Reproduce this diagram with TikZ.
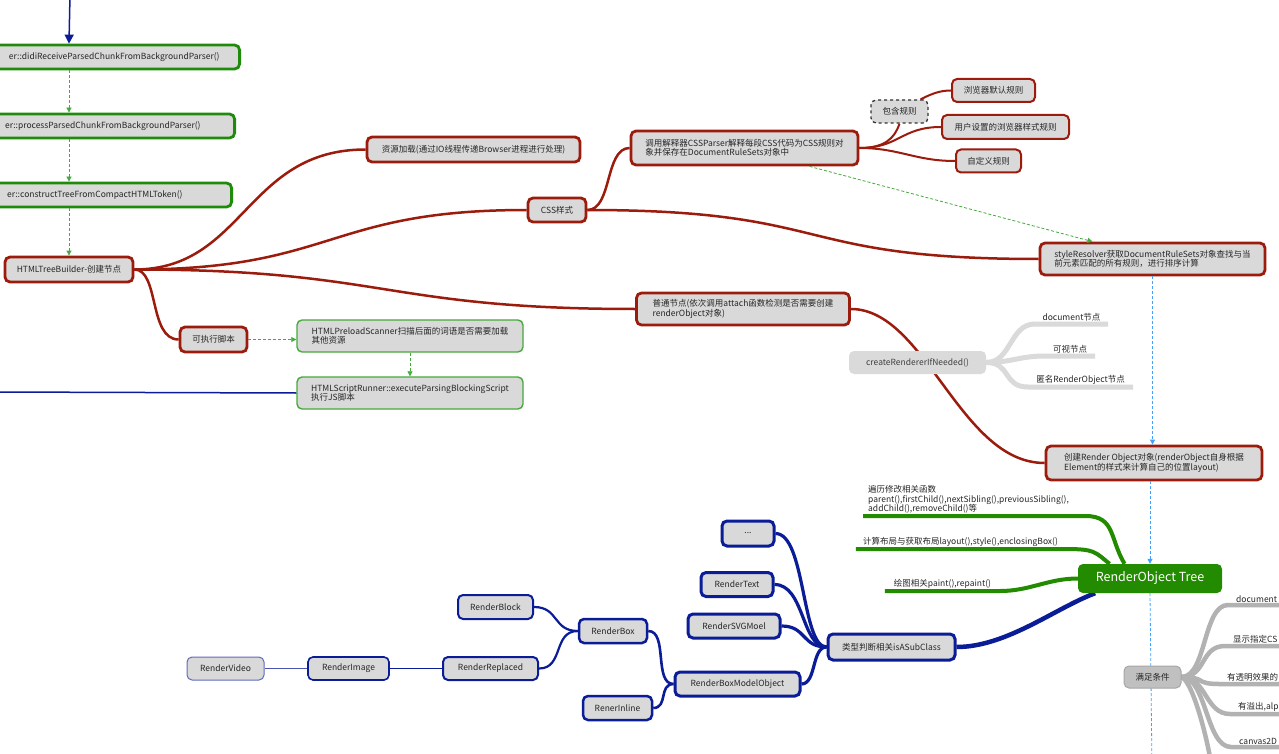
\documentclass[tikz,border=0pt]{standalone}
\usepackage{fontspec}
\setmainfont{Noto Sans CJK SC}
\usetikzlibrary{calc,arrows.meta}

\definecolor{mred}{RGB}{155,27,12}
\definecolor{mgreen}{RGB}{30,140,10}
\definecolor{lgreen}{RGB}{70,170,60}
\definecolor{mblue}{RGB}{10,28,150}
\definecolor{boxgray}{RGB}{217,217,217}
\definecolor{rotgreen}{RGB}{34,139,0}
\definecolor{dashblue}{RGB}{70,160,250}
\definecolor{crgray}{RGB}{218,218,218}
\definecolor{mzgray}{RGB}{192,192,192}
\definecolor{mzline}{RGB}{178,178,178}

\pgfdeclarelayer{bg}
\pgfsetlayers{bg,main}

\tikzset{
  base/.style={rounded corners=5pt, fill=boxgray, text=black!85, inner sep=0pt,
    font=\fontsize{8.5}{9.5}\selectfont},
  sz/.style 2 args={minimum width=#1pt, minimum height=#2pt},
  rbox/.style={base, draw=mred, line width=2.8pt},
  rsub/.style={base, draw=mred, line width=2pt},
  gtop/.style={base, draw=mgreen, line width=2.8pt, minimum height=24pt, text width=300pt, align=right, anchor=east},
  gbox/.style={base, draw=lgreen, line width=1.4pt},
  bone/.style={base, draw=mblue, line width=3pt},
  btwo/.style={base, draw=mblue, line width=2.5pt},
  bthree/.style={base, draw=mblue, line width=2pt},
  uline/.style={anchor=south, inner xsep=0pt, inner ysep=2.5pt, text=black!85,
    font=\fontsize{8.5}{9.5}\selectfont},
  rline/.style={draw=mred, line width=2.5pt},
  gline/.style={draw=rotgreen, line width=4pt},
  bline/.style={draw=mblue, line width=3.2pt},
  cline/.style={draw=crgray, line width=5pt},
  mline/.style={draw=mzline, line width=4.5pt},
  gdash/.style={draw=lgreen, line width=0.8pt, dash pattern=on 3pt off 2pt, -{Triangle[length=5pt,width=5pt]}},
  bdash/.style={draw=dashblue, line width=0.8pt, dash pattern=on 3pt off 2pt},
}

\begin{document}
\begin{tikzpicture}[x=1pt,y=-1pt]
\path[use as bounding box, clip] (0,0) rectangle (1279,754);

% parser chain
\node[gtop, inner xsep=20pt] (p1) at (241,57) {er::didiReceiveParsedChunkFromBackgroundParser()};
\node[gtop, inner xsep=34pt] (p2) at (236,126) {er::processParsedChunkFromBackgroundParser()};
\node[gtop, inner xsep=49pt] (p3) at (233,195) {er::constructTreeFromCompactHTMLToken()};

% tree builder and its branches
\node[rbox, sz={128}{25}] (htb) at (69,269.5) {HTMLTreeBuilder-创建节点};
\node[rbox, sz={213}{25}] (res) at (473.5,149.5) {资源加载(通过IO线程传递Browser进程进行处理)};
\node[rbox, sz={58}{24}] (css) at (557,210) {CSS样式};
\node[rbox, sz={213}{32}, align=left] (norm) at (743,309) {普通节点(依次调用attach函数检测是否需要创建\\renderObject对象)};
\node[rbox, sz={67}{25}] (scr) at (213.5,339.5) {可执行脚本};

\node[rbox, sz={227}{34}, align=left] (cssp) at (744.5,148) {调用解释器CSSParser解释每段CSS代码为CSS规则对\\象并保存在DocumentRuleSets对象中};
\node[rbox, sz={225}{32}, align=left] (sres) at (1152.5,259) {styleResolver获取DocumentRuleSets对象查找与当\\前元素匹配的所有规则，进行排序计算};
\node[rbox, sz={216}{34}, align=left] (crobj) at (1154,463) {创建Render Object对象(renderObject自身根据\\Element的样式来计算自己的位置layout)};

\node[base, draw=black!80, dashed, line width=1.3pt, sz={57}{23}] (incl) at (899.5,111.5) {包含规则};
\node[rsub, sz={83}{23}] (rule1) at (993.5,90.5) {浏览器默认规则};
\node[rsub, sz={127}{24}] (rule2) at (1005.5,127) {用户设置的浏览器样式规则};
\node[rsub, sz={65}{23}] (rule3) at (988.5,161) {自定义规则};

% scripts
\node[gbox, sz={226}{32}, align=left] (scan) at (410,336) {HTMLPreloadScanner扫描后面的词语是否需要加载\\其他资源};
\node[gbox, sz={226}{32}, align=left] (run) at (410,393) {HTMLScriptRunner::executeParsingBlockingScript\\执行JS脚本};

% createRendererIfNeeded
\node[base, fill=crgray, text=black!75, sz={137}{23}] (cre) at (917.5,362.5) {createRendererIfNeeded()};
\node[uline, minimum width=73pt] (cre1) at (1071.5,324) {document节点};
\node[uline, minimum width=50pt] (cre2) at (1070,356) {可视节点};
\node[uline, minimum width=105pt] (cre3) at (1080.5,387) {匿名RenderObject节点};

% render object tree
\node[base, fill=rotgreen, text=white, font=\fontsize{12.5}{14}\selectfont, sz={144}{29}] (rot) at (1150,578.5) {RenderObject Tree};
\node[uline, anchor=south west, text width=212pt, inner xsep=5pt, align=left] (trav) at (863,516) {遍历修改相关函数\\parent(),firstChild(),nextSibling(),previousSibling(),\\addChild(),removeChild()等};
\node[uline, minimum width=209pt] (lay) at (960.5,549) {计算布局与获取布局layout(),style(),enclosingBox()};
\node[uline, minimum width=115pt] (paint) at (942.5,591) {绘图相关paint(),repaint()};

% class hierarchy
\node[bone, sz={127}{26}] (isa) at (891.5,647) {类型判断相关isASubClass};
\node[bone, sz={52}{25}] (etc) at (748,533.5) {...};
\node[bone, sz={72}{24}] (rtxt) at (737,584.5) {RenderText};
\node[bone, sz={92}{24}] (rsvg) at (734,626) {RenderSVGMoel};
\node[bone, sz={125}{24}] (rbmo) at (737.5,684) {RenderBoxModelObject};
\node[btwo, sz={68}{24}] (rbox) at (613,631) {RenderBox};
\node[btwo, sz={69}{24}] (rinl) at (617.5,708) {RenerInline};
\node[bthree, sz={75}{24}] (rblk) at (495.5,607) {RenderBlock};
\node[bthree, sz={95}{23}] (rrep) at (490.5,668.5) {RenderReplaced};
\node[base, draw=mblue, line width=1.6pt, sz={81}{23}] (rimg) at (348.5,668.5) {RenderImage};
\node[base, draw=mblue!65, line width=1pt, sz={77}{23}] (rvid) at (225.5,668.5) {RenderVideo};

% conditions
\node[base, fill=mzgray, draw=black!35, line width=1pt, sz={57}{22}] (cond) at (1152.5,677) {满足条件};
\node[uline, anchor=south west, text width=70pt, inner xsep=8pt, align=left] (cond1) at (1228,605) {document};
\node[uline, anchor=south west, text width=70pt, inner xsep=8pt, align=left] (cond2) at (1225,646) {显示指定CS};
\node[uline, anchor=south west, text width=70pt, inner xsep=8pt, align=left] (cond3) at (1219,684) {有透明效果的};
\node[uline, anchor=south west, text width=70pt, inner xsep=8pt, align=left] (cond4) at (1230,714) {有溢出,alp};
\node[uline, anchor=south west, text width=70pt, inner xsep=8pt, align=left] (cond5) at (1231,747) {canvas2D};

\coordinate (topin) at (70,-5);
\coordinate (leftin) at (-5,392);
\coordinate (botout) at (1152,770);
\coordinate (condout) at (1212,770);

\begin{pgfonlayer}{bg}
\fill[white] (0,0) rectangle (1279,754);
% red branches
\draw[rline] (htb.east) .. controls +(110,0) and +(-120,0) .. (res.west);
\draw[rline] (htb.east) .. controls +(200,0) and +(-200,0) .. (css.west);
\draw[rline] (htb.east) .. controls +(250,0) and +(-250,0) .. (norm.west);
\draw[rline] (htb.east) .. controls +(25,0) and +(-30,0) .. (scr.west);
\draw[rline] (css.east) .. controls +(25,0) and +(-25,0) .. (cssp.west);
\draw[rline] (css.east) .. controls +(250,0) and +(-250,0) .. (sres.west);
\draw[rline] (norm.east) .. controls +(75,0) and +(-85,0) .. (crobj.west);
\draw[rline, line width=2pt] (cssp.east) .. controls +(25,0) and +(-5,15) .. (incl.south);
\draw[rline, line width=2pt] (incl.30) .. controls +(10,-5) and +(-12,0) .. (rule1.west);
\draw[rline, line width=2pt] (cssp.east) .. controls +(40,0) and +(-40,0) .. (rule2.west);
\draw[rline, line width=2pt] (cssp.east) .. controls +(40,0) and +(-40,0) .. (rule3.west);
% grey sub topics
\draw[cline] (cre.east) .. controls +(25,0) and +(-25,0) .. (cre1.south west) -- (cre1.south east);
\draw[cline] (cre.east) .. controls +(25,0) and +(-25,0) .. (cre2.south west) -- (cre2.south east);
\draw[cline] (cre.east) .. controls +(25,0) and +(-25,0) .. (cre3.south west) -- (cre3.south east);
% green sub topics
\draw[gline] (rot.150) .. controls +(-15,-25) and +(30,0) .. (trav.south east) -- (trav.south west);
\draw[gline] (rot.160) .. controls +(-15,-12) and +(30,0) .. (lay.south east) -- (lay.south west);
\draw[gline] (rot.west) .. controls +(-30,0) and +(30,0) .. (paint.south east) -- (paint.south west);
% blue hierarchy
\draw[bline, line width=4.5pt] (isa.east) .. controls +(50,0) and +(-40,15) .. (rot.195);
\draw[bline] (isa.west) .. controls +(-25,0) and +(30,0) .. (etc.east);
\draw[bline] (isa.west) .. controls +(-25,0) and +(30,0) .. (rtxt.east);
\draw[bline] (isa.west) .. controls +(-25,0) and +(25,0) .. (rsvg.east);
\draw[bline] (isa.west) .. controls +(-15,0) and +(15,0) .. (rbmo.east);
\draw[bline, line width=2.6pt] (rbmo.west) .. controls +(-20,0) and +(20,0) .. (rbox.east);
\draw[bline, line width=2.6pt] (rbmo.west) .. controls +(-15,0) and +(15,0) .. (rinl.east);
\draw[bline, line width=2.2pt] (rbox.west) .. controls +(-25,0) and +(25,0) .. (rblk.east);
\draw[bline, line width=2.2pt] (rbox.west) .. controls +(-25,0) and +(25,0) .. (rrep.east);
\draw[bline, line width=1.6pt] (rrep.west) -- (rimg.east);
\draw[draw=mblue!75, line width=1pt] (rimg.west) -- (rvid.east);
% conditions
\draw[mline] (cond.east) .. controls +(25,0) and +(-25,0) .. (cond1.south west) -- (cond1.south east);
\draw[mline] (cond.east) .. controls +(25,0) and +(-25,0) .. (cond2.south west) -- (cond2.south east);
\draw[mline] (cond.east) .. controls +(25,0) and +(-25,0) .. (cond3.south west) -- (cond3.south east);
\draw[mline] (cond.east) .. controls +(25,0) and +(-25,0) .. (cond4.south west) -- (cond4.south east);
\draw[mline] (cond.east) .. controls +(25,0) and +(-25,0) .. (cond5.south west) -- (cond5.south east);
\draw[mline] (cond.east) .. controls +(12,5) and +(-3,-25) .. (condout);
% blue dashed flow
\draw[bdash] (rot.south) -- (botout);
\end{pgfonlayer}

% flow arrows
\draw[mblue, line width=1.5pt, -{Triangle[length=9pt,width=9pt]}] (topin) -- (p1.north -| htb.north);
\draw[mblue, line width=1.5pt] (leftin) -- (run.west);
\draw[gdash] (p1.south -| htb.north) -- (p2.north -| htb.north);
\draw[gdash] (p2.south -| htb.north) -- (p3.north -| htb.north);
\draw[gdash] (p3.south -| htb.north) -- (htb.north);
\draw[gdash] (scr.east) -- (scr.east -| scan.west);
\draw[gdash] (scan.south) -- (run.north);
\draw[gdash] ($(cssp.south)+(65,0)$) -- ($(sres.north)+(-60,0)$);
\draw[bdash, -{Triangle[length=5pt,width=5pt]}] (sres.south) -- (sres.south |- crobj.north);
\draw[bdash, -{Triangle[length=5pt,width=5pt]}] (rot.north |- crobj.south) -- (rot.north);
\end{tikzpicture}
\end{document}
